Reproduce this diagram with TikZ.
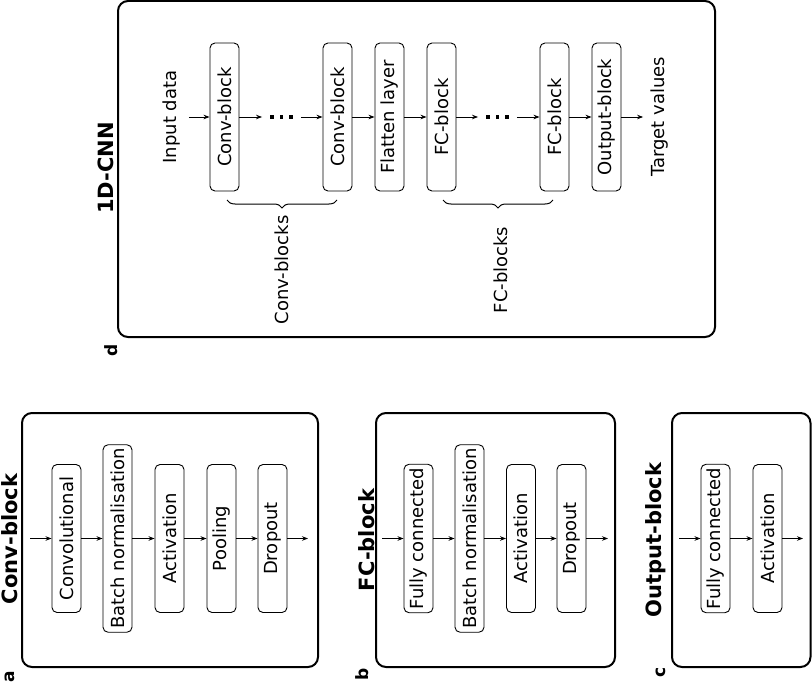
\documentclass[tikz,border=0pt]{standalone}
\usepackage{fontspec}
\setmainfont{DejaVu Sans}
\usetikzlibrary{arrows.meta,decorations.pathreplacing}
\begin{document}
\begin{tikzpicture}[x=1pt,y=-1pt,
  blk/.style={draw,line width=0.9pt,rounded corners=5pt,rotate=90,minimum width=148pt,minimum height=29pt,inner sep=3.5pt,font=\fontsize{18}{20}\selectfont},
  lbl/.style={rotate=90,inner sep=8pt,font=\fontsize{18}{20}\selectfont},
  panel/.style={draw,line width=2pt,rounded corners=10pt},
  ttl/.style={rotate=90,anchor=base,inner sep=0pt,font=\fontsize{21}{24}\selectfont\bfseries},
  tag/.style={rotate=90,anchor=base,inner sep=0pt,font=\fontsize{17}{20}\selectfont\bfseries},
  arr/.style={-{Stealth[length=6pt,width=4.5pt]},line width=0.8pt},
  brc/.style={decorate,decoration={brace,amplitude=8pt},line width=1pt},
  dotsn/.style={inner xsep=8pt,inner ysep=0pt}
]
\useasboundingbox (0,0) rectangle (812,685);
\newcommand{\dotsrow}{\rule{3.5pt}{3.5pt}\hspace{6pt}\rule{3.5pt}{3.5pt}\hspace{6pt}\rule{3.5pt}{3.5pt}}

% ---------- panel d ----------
\draw[panel] (118,1) rectangle (715,337);
\node[ttl] (tD) at (113,168) {1D-CNN};
\node[tag] (lD) at (117,350) {d};
\node[lbl] (inp) at (172,117) {Input data};
\node[blk] (c1) at (224.5,117) {Conv-block};
\node[dotsn] (d1) at (281.5,117) {\dotsrow};
\node[blk] (c2) at (337.5,117) {Conv-block};
\node[blk] (fl) at (389.5,117) {Flatten layer};
\node[blk] (f1) at (441.5,117) {FC-block};
\node[dotsn] (d2) at (497.5,117) {\dotsrow};
\node[blk] (f2) at (554.5,117) {FC-block};
\node[blk] (ob) at (606.5,117) {Output-block};
\node[lbl] (tgt) at (660,117) {Target values};
\draw[arr] (inp) -- (c1);
\draw[arr] (c1) -- (d1);
\draw[arr] (d1) -- (c2);
\draw[arr] (c2) -- (fl);
\draw[arr] (fl) -- (f1);
\draw[arr] (f1) -- (d2);
\draw[arr] (d2) -- (f2);
\draw[arr] (f2) -- (ob);
\draw[arr] (ob) -- (tgt);
\draw[brc] (337,200) -- (227,200);
\draw[brc] (553,200) -- (443,200);
\node[lbl,inner sep=0pt] (cbl) at (282,270) {Conv-blocks};
\node[lbl,inner sep=0pt] (fbl) at (501,270) {FC-blocks};

% ---------- panel a ----------
\draw[panel] (22,413) rectangle (318,667);
\node[ttl] (tA) at (17,539) {Conv-block};
\node[tag] (lA) at (15,677) {a};
\coordinate (ainp) at (30,538.5);
\coordinate (aout) at (308,538.5);
\node[blk] (a1) at (66.5,538.5) {Convolutional};
\node[blk] (a2) at (117.5,538.5) {Batch normalisation};
\node[blk] (a3) at (169.5,538.5) {Activation};
\node[blk] (a4) at (221.5,538.5) {Pooling};
\node[blk] (a5) at (272.5,538.5) {Dropout};
\draw[arr] (ainp) -- (a1);
\draw[arr] (a1) -- (a2);
\draw[arr] (a2) -- (a3);
\draw[arr] (a3) -- (a4);
\draw[arr] (a4) -- (a5);
\draw[arr] (a5) -- (aout);

% ---------- panel b ----------
\draw[panel] (376,413) rectangle (615,667);
\node[ttl] (tB) at (374,540) {FC-block};
\node[tag] (lB) at (368,674) {b};
\coordinate (binp) at (382,538.5);
\coordinate (bout) at (608,538.5);
\node[blk] (b1) at (418.5,538.5) {Fully connected};
\node[blk] (b2) at (469.5,538.5) {Batch normalisation};
\node[blk] (b3) at (521,538.5) {Activation};
\node[blk] (b4) at (571.5,538.5) {Dropout};
\draw[arr] (binp) -- (b1);
\draw[arr] (b1) -- (b2);
\draw[arr] (b2) -- (b3);
\draw[arr] (b3) -- (b4);
\draw[arr] (b4) -- (bout);

% ---------- panel c ----------
\draw[panel] (672,413) rectangle (810.5,667);
\node[ttl] (tC) at (661,540) {Output-block};
\node[tag] (lC) at (665,672) {c};
\coordinate (cinp) at (679,538.5);
\coordinate (cout) at (803,538.5);
\node[blk] (k1) at (715.5,538.5) {Fully connected};
\node[blk] (k2) at (767.5,538.5) {Activation};
\draw[arr] (cinp) -- (k1);
\draw[arr] (k1) -- (k2);
\draw[arr] (k2) -- (cout);
\end{tikzpicture}
\end{document}
